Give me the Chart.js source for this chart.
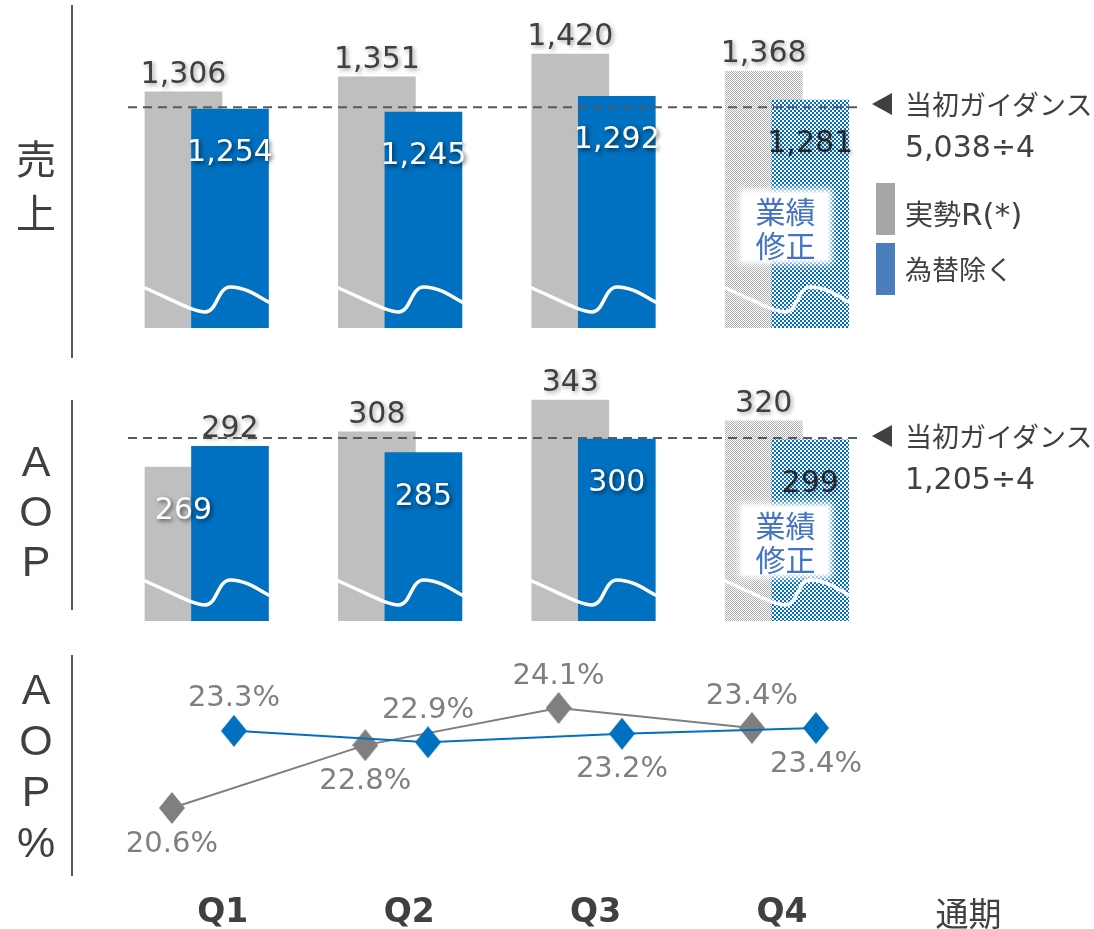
<!DOCTYPE html>
<html><head><meta charset="utf-8">
<script src="https://cdn.jsdelivr.net/npm/chart.js@4.4.1/dist/chart.umd.min.js"></script>
<style>
html,body{margin:0;padding:0;background:#fff;}
body{width:1094px;height:929px;overflow:hidden;position:relative;font-family:"DejaVu Sans","Noto Sans CJK JP",sans-serif;color:#404040;}
canvas{position:absolute;left:0;}
#c1{top:0;} #c2{top:360px;} #c3{top:650px;}
.vline{position:absolute;left:71px;width:2px;background:#595959;}
.side{position:absolute;left:0;width:72px;text-align:center;color:#404040;}
.jp{font-family:"Noto Sans CJK JP",sans-serif;}
.lat{font-family:"Liberation Sans",Arial,sans-serif;}
.tri{position:absolute;width:0;height:0;border-top:11px solid transparent;border-bottom:11px solid transparent;border-right:20px solid #404040;}
.t{position:absolute;white-space:nowrap;line-height:40px;}
.sw{position:absolute;width:19px;height:52px;}
.fix{position:absolute;left:743px;width:85px;height:67px;background:#fff;box-shadow:0 0 6px 4px #fff;color:#4472c4;font-family:"Noto Sans CJK JP",sans-serif;font-size:30px;line-height:34px;text-align:center;}
</style>
</head><body>
<canvas id="c1" width="1094" height="328"></canvas>
<canvas id="c2" width="1094" height="261"></canvas>
<canvas id="c3" width="1094" height="279"></canvas>

<div class="vline" style="top:5px;height:353px"></div>
<div class="vline" style="top:400px;height:210px"></div>
<div class="vline" style="top:655px;height:221px"></div>
<div class="side jp" style="top:130px;font-size:40px;line-height:54px">売<br>上</div>
<div class="side lat" style="top:436px;font-size:43px;line-height:50px">A<br>O<br>P</div>
<div class="side lat" style="top:664px;font-size:43px;line-height:51px">A<br>O<br>P<br>%</div>

<div class="tri" style="left:872px;top:93px"></div>
<div class="t jp" style="left:905px;top:84px;font-size:27px">当初ガイダンス</div>
<div class="t" style="left:905px;top:127px;font-size:30px">5,038÷4</div>
<div class="tri" style="left:872px;top:425px"></div>
<div class="t jp" style="left:905px;top:416px;font-size:27px">当初ガイダンス</div>
<div class="t" style="left:905px;top:459px;font-size:30px">1,205÷4</div>

<div class="sw" style="left:876px;top:183px;background:#a6a6a6"></div>
<div class="t" style="left:905px;top:193px;font-size:28px"><span class="jp">実勢</span><span style="font-size:31px">R(*)</span></div>
<div class="sw" style="left:876px;top:243px;background:#4a7ebb"></div>
<div class="t jp" style="left:905px;top:249px;font-size:27px">為替除く</div>

<div class="fix" style="top:193px">業績<br>修正</div>
<div class="fix" style="top:507px">業績<br>修正</div>

<script>
// ---- data ----
const quarters = ['Q1', 'Q2', 'Q3', 'Q4', '通期'];
const salesJissei = [1306, 1351, 1420, 1368];   // 実勢R(*)
const salesExFx   = [1254, 1245, 1292, 1281];   // 為替除く
const aopJissei   = [269, 308, 343, 320];
const aopExFx     = [292, 285, 300, 299];
const marginJissei = [20.6, 22.8, 24.1, 23.4];  // AOP%
const marginExFx   = [23.3, 22.9, 23.2, 23.4];
const salesGuidanceTotal = 5038;
const aopGuidanceTotal = 1205;
const guidanceDivisor = 4;
const isForecast = [false, false, false, true];

// ---- label placement (style config) ----
const salesGrayPos = ['above', 'above', 'above', 'above'];
const salesBluePos = ['inside', 'inside', 'inside', 'inside'];
const aopGrayPos = ['inside', 'above', 'above', 'above'];
const aopBluePos = ['above', 'inside', 'inside', 'inside'];
const marginGrayPos = ['below', 'below', 'above', 'above'];
const marginBluePos = ['above', 'above', 'below', 'below'];

const GRAY = '#bfbfbf', BLUE = '#0070c0';

function checker(color, cell) {
  const c = document.createElement('canvas');
  c.width = c.height = cell * 2;
  const g = c.getContext('2d');
  g.fillStyle = '#fff'; g.fillRect(0, 0, cell * 2, cell * 2);
  g.fillStyle = color; g.fillRect(0, 0, cell, cell); g.fillRect(cell, cell, cell, cell);
  return g.createPattern(c, 'repeat');
}
const grayPat = checker('#b0b0b0', 1);
const bluePat = checker(BLUE, 2);

function diamond(color, w, h) {
  const c = document.createElement('canvas');
  c.width = w; c.height = h;
  const g = c.getContext('2d');
  g.fillStyle = color;
  g.beginPath(); g.moveTo(w / 2, 0); g.lineTo(w, h / 2); g.lineTo(w / 2, h); g.lineTo(0, h / 2); g.closePath(); g.fill();
  return c;
}

const wavePlugin = {
  id: 'breakWave',
  afterDatasetsDraw(chart) {
    const ctx = chart.ctx;
    const gm = chart.getDatasetMeta(1).data, bm = chart.getDatasetMeta(0).data;
    const B = chart.chartArea.bottom;
    ctx.save();
    ctx.strokeStyle = '#ffffff'; ctx.lineWidth = 3.5; ctx.lineCap = 'round';
    ctx.setLineDash([]);
    for (let i = 0; i < gm.length; i++) {
      const ge = gm[i], be = bm[i];
      const L = ge.x - 38.5, R = be.x + 38.5, w = (R - L) / 123;
      ctx.beginPath();
      ctx.moveTo(L, B - 40);
      ctx.bezierCurveTo(L + 30 * w, B - 27, L + 48 * w, B - 16, L + 60 * w, B - 16);
      ctx.bezierCurveTo(L + 72 * w, B - 16, L + 72 * w, B - 41, L + 85 * w, B - 41);
      ctx.bezierCurveTo(L + 100 * w, B - 41, L + 112 * w, B - 32, R, B - 26);
      ctx.stroke();
    }
    ctx.restore();
  }
};

const guidePlugin = {
  id: 'guide',
  afterDatasetsDraw(chart, args, opts) {
    const ctx = chart.ctx;
    const y = chart.scales.y.getPixelForValue(opts.value);
    const g = chart.getDatasetMeta(1).data[0];
    const bd = chart.getDatasetMeta(0).data;
    const b = bd[bd.length - 1];
    ctx.save();
    ctx.strokeStyle = '#595959'; ctx.lineWidth = 2; ctx.setLineDash([9, 6]);
    ctx.beginPath();
    ctx.moveTo(g.x - g.width / 2 - 17, y);
    ctx.lineTo(b.x + b.width / 2 + 10, y);
    ctx.stroke();
    ctx.restore();
  }
};

const barLabelPlugin = {
  id: 'barLabels',
  afterDatasetsDraw(chart) {
    const ctx = chart.ctx;
    [1, 0].forEach(di => {
      const ds = chart.data.datasets[di];
      const meta = chart.getDatasetMeta(di);
      meta.data.forEach((el, i) => {
        const v = ds.data[i].y;
        const inside = ds.labelPos[i] === 'inside';
        let color = '#404040', shadow = 'rgba(0,0,0,0.35)';
        if (inside) {
          if (isForecast[i]) { color = '#262626'; }
          else { color = '#ffffff'; shadow = 'rgba(0,0,0,0.6)'; }
        }
        const y = inside ? el.y + 52 : el.y - 9;
        ctx.save();
        ctx.font = '30px "DejaVu Sans"';
        ctx.textAlign = 'center'; ctx.textBaseline = 'alphabetic';
        ctx.shadowColor = shadow; ctx.shadowBlur = 4; ctx.shadowOffsetX = 2; ctx.shadowOffsetY = 2;
        ctx.fillStyle = color;
        ctx.fillText(v.toLocaleString('en-US'), el.x, y);
        ctx.restore();
      });
    });
  }
};

function barChart(id, gray, blue, grayPos, bluePos, yMin, yMax, guide) {
  return new Chart(document.getElementById(id), {
    type: 'bar',
    data: {
      datasets: [
        { label: '為替除く', xAxisID: 'xb', order: 0, barThickness: 77, grouped: false,
          data: blue.map((v, i) => ({ x: i, y: v })),
          backgroundColor: blue.map((v, i) => isForecast[i] ? bluePat : BLUE),
          labelPos: bluePos },
        { label: '実勢R(*)', xAxisID: 'xg', order: 1, barThickness: 77, grouped: false,
          data: gray.map((v, i) => ({ x: i, y: v })),
          backgroundColor: gray.map((v, i) => isForecast[i] ? grayPat : GRAY),
          labelPos: grayPos }
      ]
    },
    options: {
      responsive: false, animation: false, events: [],
      layout: { autoPadding: false, padding: { left: 110, right: 17, top: 0, bottom: 0 } },
      plugins: { legend: { display: false }, tooltip: { enabled: false }, guide: { value: guide } },
      scales: {
        xg: { type: 'linear', display: false, offset: false, min: -0.380, max: 4.620 },
        xb: { type: 'linear', display: false, offset: false, min: -0.6205, max: 4.3795 },
        y: { display: false, min: yMin, max: yMax }
      }
    },
    plugins: [wavePlugin, guidePlugin, barLabelPlugin]
  });
}

barChart('c1', salesJissei, salesExFx, salesGrayPos, salesBluePos, 593, 1583, salesGuidanceTotal / guidanceDivisor);
barChart('c2', aopJissei, aopExFx, aopGrayPos, aopBluePos, 99, 387.3, aopGuidanceTotal / guidanceDivisor);

const lineLabelPlugin = {
  id: 'lineLabels',
  afterDatasetsDraw(chart) {
    const ctx = chart.ctx;
    chart.data.datasets.forEach((ds, di) => {
      chart.getDatasetMeta(di).data.forEach((el, i) => {
        const v = ds.data[i].y;
        const y = ds.labelPos[i] === 'above' ? el.y - 32 : el.y + 36;
        ctx.save();
        ctx.font = '29px "DejaVu Sans"';
        ctx.textAlign = 'center'; ctx.textBaseline = 'middle';
        ctx.fillStyle = '#7f7f7f';
        ctx.fillText(v.toFixed(1) + '%', el.x, y);
        ctx.restore();
      });
    });
  }
};

new Chart(document.getElementById('c3'), {
  type: 'line',
  data: {
    labels: quarters,
    datasets: [
      { label: '為替除く', xAxisID: 'xb', data: marginExFx.map((v, i) => ({ x: i, y: v })),
        borderColor: BLUE, backgroundColor: BLUE, borderWidth: 2,
        pointStyle: diamond(BLUE, 26, 32), pointRadius: 13, labelPos: marginBluePos },
      { label: '実勢R(*)', xAxisID: 'xg', data: marginJissei.map((v, i) => ({ x: i, y: v })),
        borderColor: '#7f7f7f', backgroundColor: '#7f7f7f', borderWidth: 2,
        pointStyle: diamond('#7f7f7f', 26, 32), pointRadius: 13, labelPos: marginGrayPos }
    ]
  },
  options: {
    responsive: false, animation: false, events: [],
    layout: { autoPadding: false, padding: { left: 129.6, right: 32.4, top: 0, bottom: 0 } },
    plugins: { legend: { display: false }, tooltip: { enabled: false } },
    scales: {
      x: {
        type: 'category', position: 'bottom', offset: true,
        grid: { display: false }, border: { display: false },
        afterFit: s => { s.height = 49; },
        ticks: {
          padding: 6, color: '#404040', maxRotation: 0, autoSkip: false,
          font: c => c.index === 4
            ? { family: '"Noto Sans CJK JP"', size: 33, weight: 'normal' }
            : { family: '"DejaVu Sans"', size: 33, weight: 'bold' }
        }
      },
      xg: { type: 'linear', display: false, offset: false, min: -0.219, max: 4.602 },
      xb: { type: 'linear', display: false, offset: false, min: -0.538, max: 4.266 },
      y: { display: false, min: 18.08, max: 26.13 }
    }
  },
  plugins: [lineLabelPlugin]
});
</script>
</body></html>
